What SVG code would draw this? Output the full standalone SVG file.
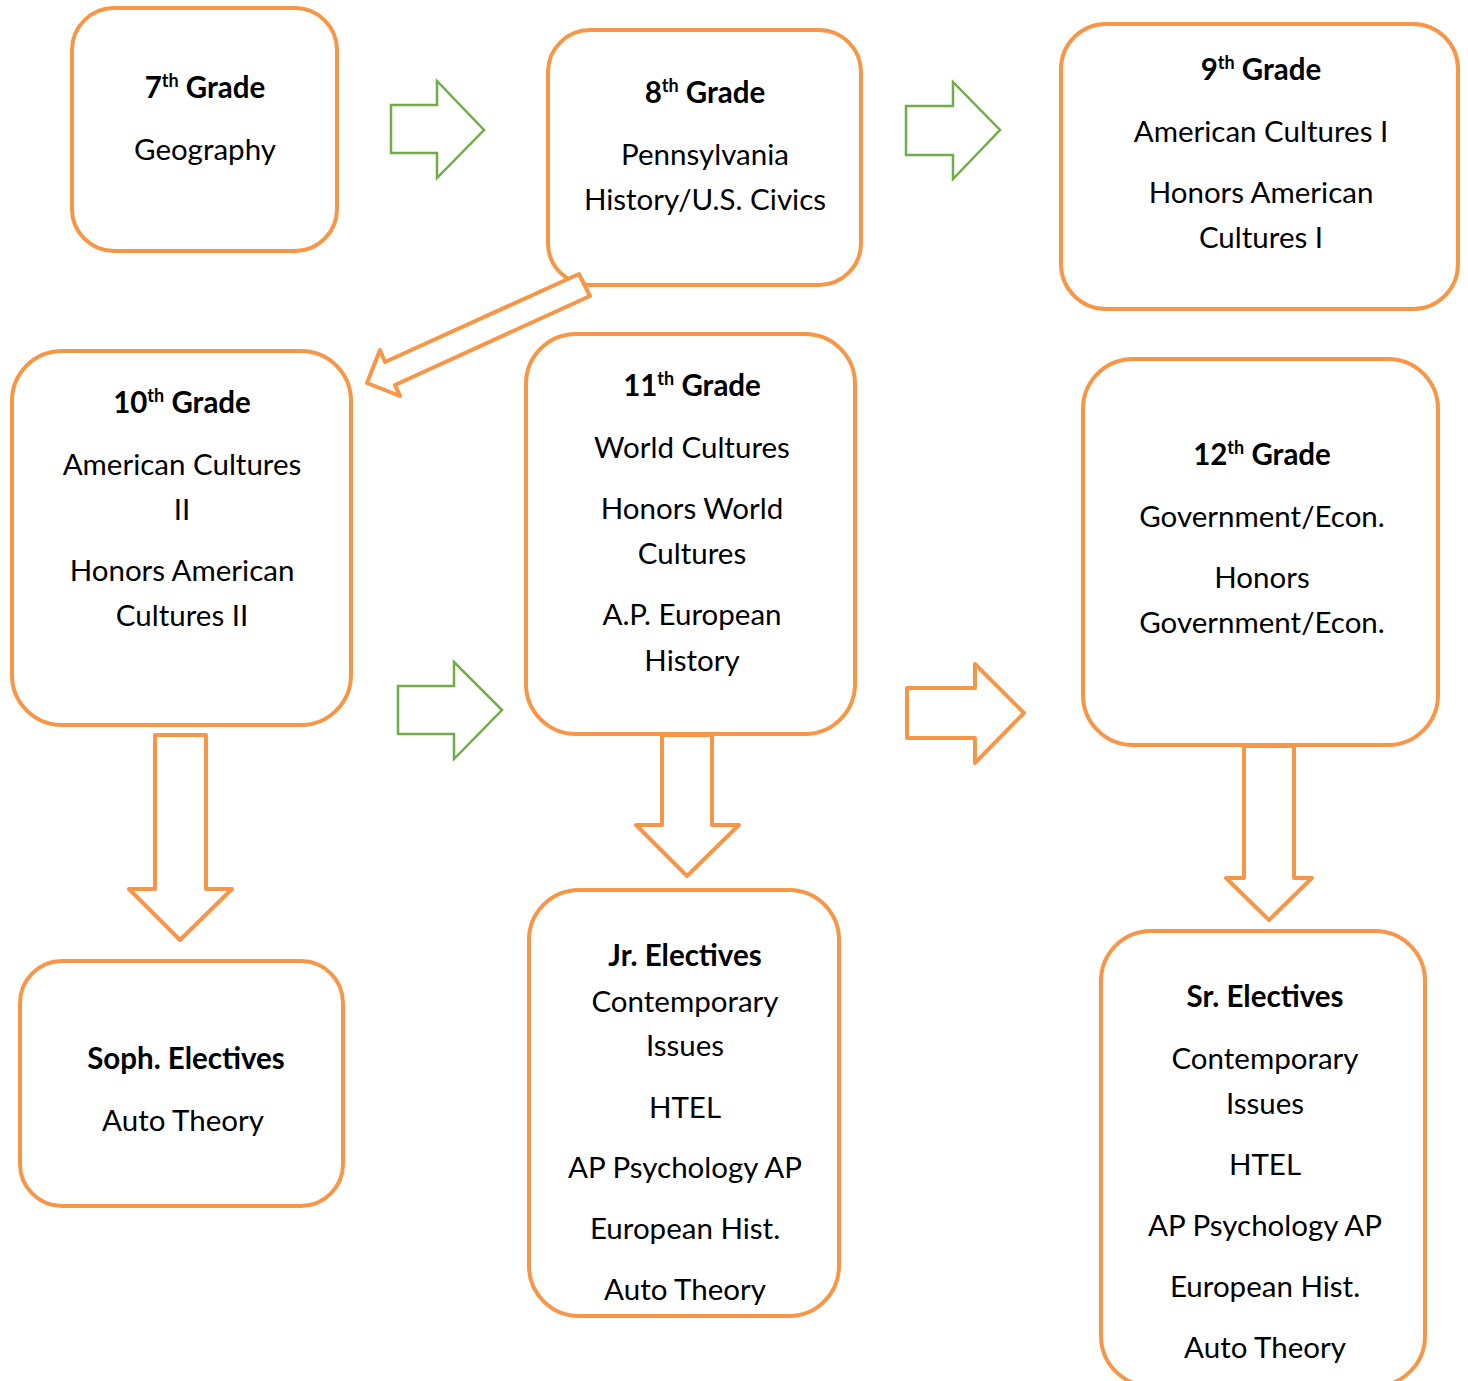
<svg xmlns="http://www.w3.org/2000/svg" width="1468" height="1381" viewBox="0 0 1468 1381">
<style>
.box{fill:#fff;stroke:#F79646;stroke-width:4}
.oa{fill:#fff;stroke:#F79646;stroke-width:4;stroke-linejoin:round}
.ga{fill:#fff;stroke:#70AD47;stroke-width:2.5}
text{font-family:Lato,"Liberation Sans",sans-serif;font-size:29.5px;fill:#000;text-anchor:middle}
.b{font-weight:bold}
.sup{font-size:18px}
</style>
<rect width="1468" height="1381" fill="#fff"/>
<g id="n7">
<rect class="box" x="72" y="8" width="265" height="243" rx="42"/>
<text x="205" y="98" class="b">7<tspan class="sup" dy="-11">th</tspan><tspan dy="11"> Grade</tspan></text>
<text x="205" y="160">Geography</text>
</g>
<g id="n8">
<rect class="box" x="548" y="30" width="313" height="255" rx="42"/>
<text x="705" y="103" class="b">8<tspan class="sup" dy="-11">th</tspan><tspan dy="11"> Grade</tspan></text>
<text x="705" y="165">Pennsylvania</text>
<text x="705" y="210">History/U.S. Civics</text>
</g>
<g id="n9">
<rect class="box" x="1061" y="24" width="397" height="285" rx="45"/>
<text x="1261" y="80" class="b">9<tspan class="sup" dy="-11">th</tspan><tspan dy="11"> Grade</tspan></text>
<text x="1261" y="142">American Cultures I</text>
<text x="1261" y="203">Honors American</text>
<text x="1261" y="248">Cultures I</text>
</g>
<g id="n10">
<rect class="box" x="12" y="351" width="339" height="374" rx="50"/>
<text x="182" y="413" class="b">10<tspan class="sup" dy="-11">th</tspan><tspan dy="11"> Grade</tspan></text>
<text x="182" y="475">American Cultures</text>
<text x="182" y="520">II</text>
<text x="182" y="581">Honors American</text>
<text x="182" y="626">Cultures II</text>
</g>
<g id="n11">
<rect class="box" x="526" y="334" width="329" height="400" rx="50"/>
<text x="692" y="396" class="b">11<tspan class="sup" dy="-11">th</tspan><tspan dy="11"> Grade</tspan></text>
<text x="692" y="458">World Cultures</text>
<text x="692" y="519">Honors World</text>
<text x="692" y="564">Cultures</text>
<text x="692" y="625">A.P. European</text>
<text x="692" y="671">History</text>
</g>
<g id="n12">
<rect class="box" x="1083" y="359" width="355" height="386" rx="50"/>
<text x="1262" y="465" class="b">12<tspan class="sup" dy="-11">th</tspan><tspan dy="11"> Grade</tspan></text>
<text x="1262" y="527">Government/Econ.</text>
<text x="1262" y="588">Honors</text>
<text x="1262" y="633">Government/Econ.</text>
</g>
<g id="soph">
<rect class="box" x="20" y="961" width="323" height="245" rx="42"/>
<text x="186" y="1069" class="b">Soph. Electives</text>
<text x="183" y="1131">Auto Theory</text>
</g>
<g id="jr">
<rect class="box" x="529" y="890" width="310" height="426" rx="50"/>
<text x="685" y="966" class="b">Jr. Electives</text>
<text x="685" y="1012">Contemporary</text>
<text x="685" y="1056">Issues</text>
<text x="685" y="1118">HTEL</text>
<text x="685" y="1178">AP Psychology AP</text>
<text x="685" y="1239">European Hist.</text>
<text x="685" y="1300">Auto Theory</text>
</g>
<g id="sr">
<rect class="box" x="1101" y="931" width="324" height="455" rx="50"/>
<text x="1265" y="1007" class="b">Sr. Electives</text>
<text x="1265" y="1069">Contemporary</text>
<text x="1265" y="1114">Issues</text>
<text x="1265" y="1175">HTEL</text>
<text x="1265" y="1236">AP Psychology AP</text>
<text x="1265" y="1297">European Hist.</text>
<text x="1265" y="1358">Auto Theory</text>
</g>
<g id="connectors">
<polygon class="ga" points="391,105 437,105 437,81 484,130 437,178 437,153 391,153"/>
<polygon class="ga" points="906,106 953,106 953,82 1000,130 953,179 953,155 906,155"/>
<polygon class="ga" points="398,686 454,686 454,662 502,710 454,759 454,734 398,734"/>
<polygon class="oa" points="907,688 975,688 975,664 1024,713 975,763 975,738 907,738"/>
<polygon class="oa" points="155,735 206,735 206,889 232,889 180,940 129,889 155,889"/>
<polygon class="oa" points="662,735 712,735 712,825 739,825 687,876 636,825 662,825"/>
<polygon class="oa" points="1244,746 1294,746 1294,878 1312,878 1269,920 1226,878 1244,878"/>
<polygon class="oa" points="579,274 590,296 395,385 400,396 367,383 380,350 385,362"/>
</g>
</svg>
